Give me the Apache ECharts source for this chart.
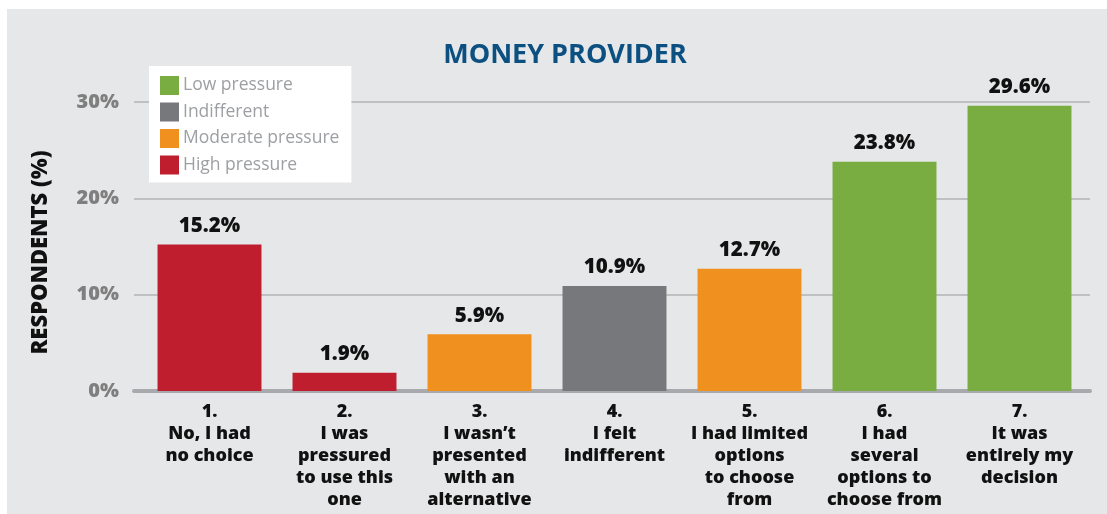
<!DOCTYPE html>
<html>
<head>
<meta charset="utf-8">
<script src="https://cdn.jsdelivr.net/npm/echarts@6/dist/echarts.min.js"></script>
<style>
html,body{margin:0;padding:0;background:#fff;}
#c{width:1107px;height:514px;}
</style>
</head>
<body>
<div id="c"></div>
<script>
const categories = [
  "1.\nNo, I had\nno choice",
  "2.\nI was\npressured\nto use this\none",
  "3.\nI wasn\u2019t\npresented\nwith an\nalternative",
  "4.\nI felt\nindifferent",
  "5.\nI had limited\noptions\nto choose\nfrom",
  "6.\nI had\nseveral\noptions to\nchoose from",
  "7.\nIt was\nentirely my\ndecision"
];
const values = [15.2, 1.9, 5.9, 10.9, 12.7, 23.8, 29.6];
const groupOfCategory = ["High pressure", "High pressure", "Moderate pressure", "Indifferent", "Moderate pressure", "Low pressure", "Low pressure"];
const groups = ["Low pressure", "Indifferent", "Moderate pressure", "High pressure"];
const groupColors = ["#7aad41", "#77787b", "#f0901e", "#be1e2d"];
const yTicks = [0, 10, 20, 30];

const FONT = "Open Sans";
const series = groups.map((g, gi) => ({
  name: g,
  type: 'bar',
  stack: 'all',
  xAxisIndex: 1,
  yAxisIndex: 1,
  barWidth: '77%',
  itemStyle: { color: groupColors[gi] },
  label: {
    show: true,
    position: 'top',
    distance: 8,
    formatter: p => p.value.toFixed(1) + '%',
    color: '#111',
    fontFamily: FONT,
    fontWeight: 800,
    fontSize: 20.5
  },
  data: values.map((v, i) => groupOfCategory[i] === g ? v : null)
}));

const chart = echarts.init(document.getElementById('c'));
chart.setOption({
  backgroundColor: '#ffffff',
  animation: false,
  graphic: [{
    type: 'rect', z: -10, silent: true,
    shape: { x: 7, y: 9, width: 1100, height: 505 },
    style: { fill: '#e6e7e8' }
  }],
  title: {
    text: 'MONEY PROVIDER',
    left: 560,
    textAlign: 'center',
    top: 37,
    textStyle: { color: '#0b5080', fontFamily: FONT, fontWeight: 700, fontSize: 27 }
  },
  legend: {
    orient: 'vertical',
    left: 149,
    top: 66,
    data: groups,
    backgroundColor: '#ffffff',
    padding: [10, 12, 8, 11],
    itemWidth: 19,
    itemHeight: 19,
    itemGap: 7.5,
    icon: 'rect',
    textStyle: { color: '#9d9fa2', fontFamily: FONT, fontSize: 17.5, padding: [0, 0, 0, -1] }
  },
  grid: [
    { left: 134, right: 17, top: 102, bottom: 123 },
    { left: 142, right: 20, top: 102, bottom: 123 }
  ],
  xAxis: [{
    gridIndex: 0,
    type: 'value',
    min: 0, max: 1,
    axisLine: { show: true, lineStyle: { color: '#a7a9ac', width: 4 } },
    axisTick: { show: false },
    axisLabel: { show: false },
    splitLine: { show: false }
  }, {
    gridIndex: 1,
    type: 'category',
    data: categories,
    axisLine: { show: false },
    axisTick: { show: false },
    axisLabel: {
      interval: 0,
      margin: 10,
      color: '#111',
      fontFamily: FONT,
      fontWeight: 800,
      fontSize: 18,
      lineHeight: 22
    }
  }],
  yAxis: [{
    gridIndex: 0,
    type: 'value',
    min: yTicks[0],
    max: yTicks[yTicks.length - 1],
    interval: 10,
    name: 'RESPONDENTS (%)',
    nameLocation: 'middle',
    nameGap: 82,
    nameTextStyle: { color: '#111', fontFamily: FONT, fontWeight: 800, fontSize: 22, padding: [0, 12, 0, 0] },
    axisLine: { show: false },
    axisTick: { show: false },
    axisLabel: {
      margin: 15,
      formatter: v => v + '%',
      color: '#7f7f7f',
      fontFamily: FONT,
      fontWeight: 800,
      fontSize: 20
    },
    splitLine: { lineStyle: { color: '#b1b3b6', width: 1.5 } }
  }, {
    gridIndex: 1,
    type: 'value',
    min: yTicks[0],
    max: yTicks[yTicks.length - 1],
    interval: 10,
    show: false,
    splitLine: { show: false }
  }],
  series: series
});
</script>
</body>
</html>
